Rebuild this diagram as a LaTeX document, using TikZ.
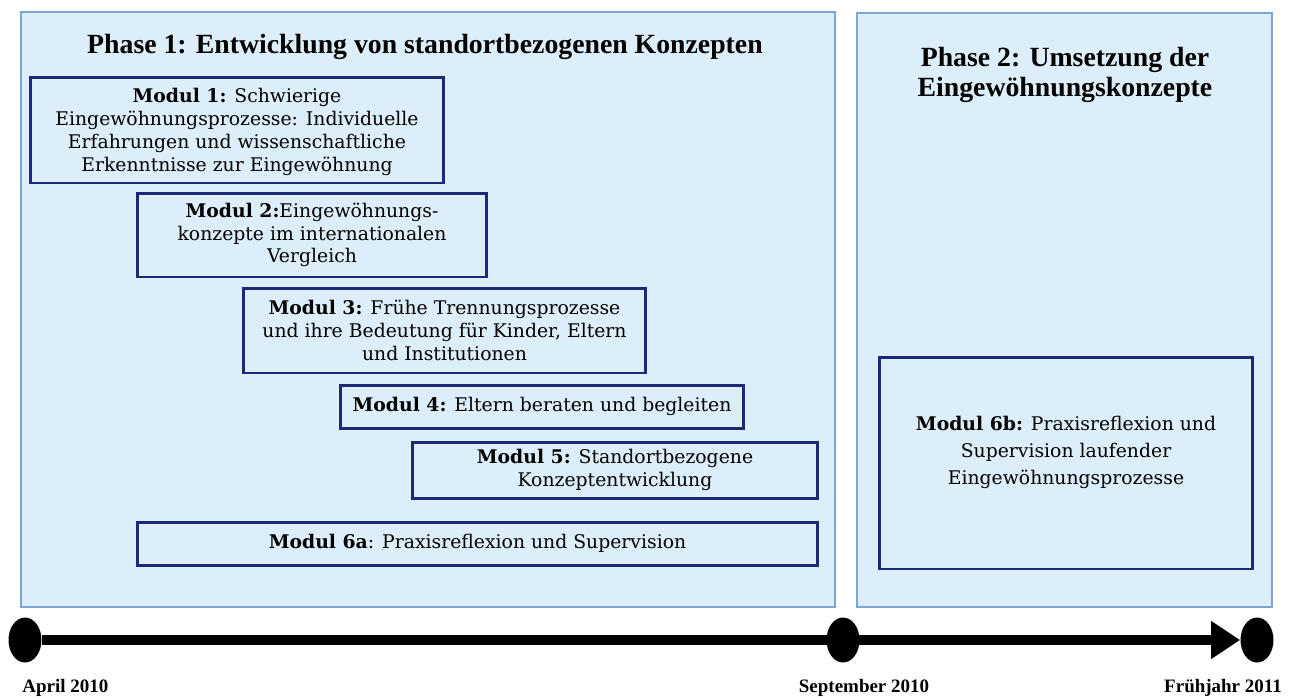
\documentclass[tikz,border=0pt]{standalone}
\usepackage{fontspec}
\setmainfont{DejaVu Serif}
\newfontfamily\titlefont{Liberation Serif}
\usetikzlibrary{shapes.geometric,arrows.meta}
\definecolor{phasefill}{RGB}{220,238,249}
\definecolor{phaseline}{RGB}{126,164,214}
\definecolor{modline}{RGB}{28,40,120}
\tikzset{phase/.style={draw=phaseline, line width=1.1pt, fill=phasefill, inner sep=0pt}}
\tikzset{modbox/.style={draw=modline, line width=1.7pt, fill=phasefill, inner sep=0pt, align=center, font=\fontsize{10.7}{13}\selectfont}}
\tikzset{phasetitle/.style={align=center, font=\titlefont\bfseries\fontsize{15.8}{17}\selectfont}}
\tikzset{dot/.style={ellipse, fill=black, inner sep=0pt, minimum width=0.66cm, minimum height=0.9cm}}
\tikzset{datelabel/.style={inner sep=0pt, font=\titlefont\bfseries\fontsize{10.8}{12}\selectfont}}

\begin{document}
\begin{tikzpicture}[x=0.02cm, y=-0.02cm]
  \useasboundingbox (0,0) rectangle (1294,698);
  % phases
  \node[phase, minimum width=16.28cm, minimum height=11.9cm] (ph1) at (428,309.5) {};
  \node[phase, minimum width=8.3cm, minimum height=11.88cm] (ph2) at (1064.5,310) {};
  \node[phasetitle] (ph1title) at (425,47) {Phase 1: Entwicklung von standortbezogenen Konzepten};
  \node[phasetitle] (ph2title) at (1065,75) {Phase 2: Umsetzung der\\Eingewöhnungskonzepte};

  % modules
  \node[modbox, minimum width=8.28cm, minimum height=2.12cm, text depth=-2.8pt] (m1) at (237,130)
    {\textbf{Modul 1:} Schwierige\\Eingewöhnungsprozesse: Individuelle\\Erfahrungen und wissenschaftliche\\Erkenntnisse zur Eingewöhnung};
  \node[modbox, minimum width=7cm, minimum height=1.68cm] (m2) at (312,235)
    {\textbf{Modul 2:}Eingewöhnungs-\\konzepte im internationalen\\Vergleich};
  \node[modbox, minimum width=8.06cm, minimum height=1.7cm] (m3) at (444.5,330.5)
    {\textbf{Modul 3:} Frühe Trennungsprozesse\\und ihre Bedeutung für Kinder, Eltern\\und Institutionen};
  \node[modbox, minimum width=8.08cm, minimum height=0.86cm] (m4) at (542,406.5)
    {\textbf{Modul 4:} Eltern beraten und begleiten};
  \node[modbox, minimum width=8.12cm, minimum height=1.12cm] (m5) at (615,470)
    {\textbf{Modul 5:} Standortbezogene\\Konzeptentwicklung};
  \node[modbox, minimum width=13.62cm, minimum height=0.86cm] (m6a) at (477.5,543.5)
    {\textbf{Modul 6a}: Praxisreflexion und Supervision};
  \node[modbox, minimum width=7.48cm, minimum height=4.24cm, text depth=14.5pt, font=\fontsize{10.7}{15.6}\selectfont] (m6b) at (1066,463)
    {\textbf{Modul 6b:} Praxisreflexion und\\Supervision laufender\\Eingewöhnungsprozesse};

  % timeline
  \node[dot] (t0) at (25,640) {};
  \node[dot] (t1) at (843,640) {};
  \node[dot] (t2) at (1257,640) {};
  \draw[line width=5.7pt, -{Triangle[length=0.58cm, width=0.72cm]}] (t0) -- (t2);
  \node[datelabel, anchor=west] (d0) at (22,688) {April 2010};
  \node[datelabel] (d1) at (864,688) {September 2010};
  \node[datelabel] (d2) at (1223,688) {Frühjahr 2011};
\end{tikzpicture}
\end{document}
